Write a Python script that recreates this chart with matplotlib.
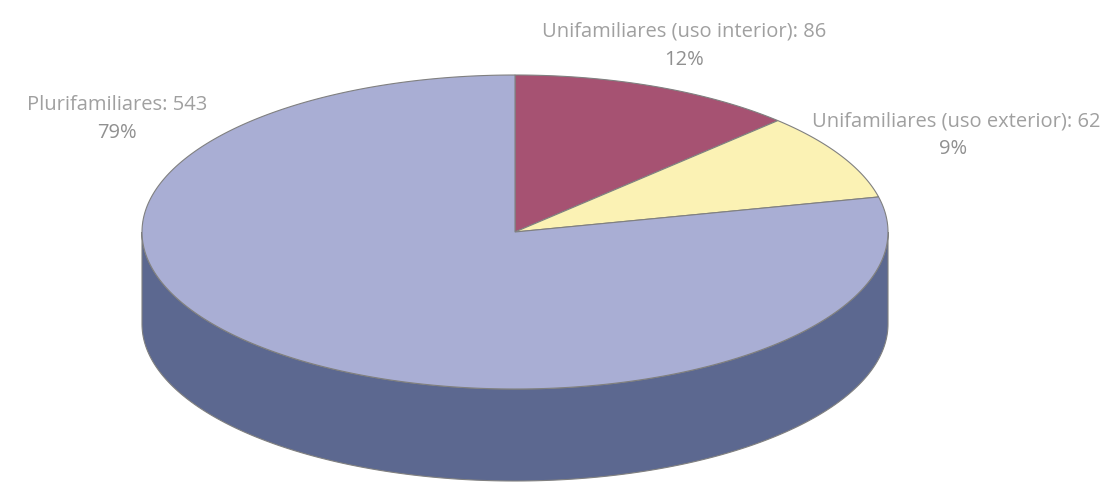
import numpy as np
import matplotlib
matplotlib.use("Agg")
import matplotlib.pyplot as plt
from matplotlib.patches import Polygon

categories = ["Unifamiliares (uso interior)", "Unifamiliares (uso exterior)", "Plurifamiliares"]
values = [86, 62, 543]
top_colors = ["#A65272", "#FBF2B4", "#A9AED4"]
side_colors = ["#6E3449", "#A9A178", "#5C6890"]

# geometry (pixels)
CX, CY, RX, RY, DEPTH = 515.0, 232.0, 373.0, 157.0, 92.0
EDGE = "#808080"

fig = plt.figure(figsize=(11.06, 4.84), dpi=100)
ax = fig.add_axes([0, 0, 1, 1])
ax.set_xlim(0, 1106)
ax.set_ylim(484, 0)
ax.axis("off")

def pt(theta_deg, dy=0.0):
    t = np.radians(theta_deg)
    return CX + RX * np.sin(t), CY - RY * np.cos(t) + dy

total = float(sum(values))
fracs = [v / total for v in values]
bounds = np.concatenate([[0.0], np.cumsum(fracs) * 360.0])

# side walls (visible front half: 90..270 deg)
for i in range(len(values)):
    a0, a1 = max(bounds[i], 90.0), min(bounds[i + 1], 270.0)
    if a1 <= a0:
        continue
    th = np.linspace(a0, a1, 200)
    xs, ys = pt(th)
    xb, yb = pt(th[::-1], DEPTH)
    poly = np.column_stack([np.concatenate([xs, xb]), np.concatenate([ys, yb])])
    ax.add_patch(Polygon(poly, closed=True, facecolor=side_colors[i],
                         edgecolor=EDGE, linewidth=0.8, zorder=1))

# top slices
for i in range(len(values)):
    th = np.linspace(bounds[i], bounds[i + 1], 300)
    xs, ys = pt(th)
    poly = np.column_stack([np.concatenate([[CX], xs]), np.concatenate([[CY], ys])])
    ax.add_patch(Polygon(poly, closed=True, facecolor=top_colors[i],
                         edgecolor=EDGE, linewidth=0.8, zorder=2))

# labels
label_pos = [(684, 32), (956, 121), (117, 105)]
fam = ["Open Sans", "DejaVu Sans"]
for i, (x, y) in enumerate(label_pos):
    pct = round(fracs[i] * 100)
    ax.text(x, y, f"{categories[i]}: {values[i]}", ha="center", va="center",
            fontsize=14.5, color="#A0A0A0", family=fam, zorder=3)
    ax.text(x - 3 if i == 1 else x, y + 28, f"{pct}%", ha="center", va="center",
            fontsize=14.5, color="#909090", family=fam, zorder=3)

fig.savefig("out.png", dpi=100, facecolor="white")
